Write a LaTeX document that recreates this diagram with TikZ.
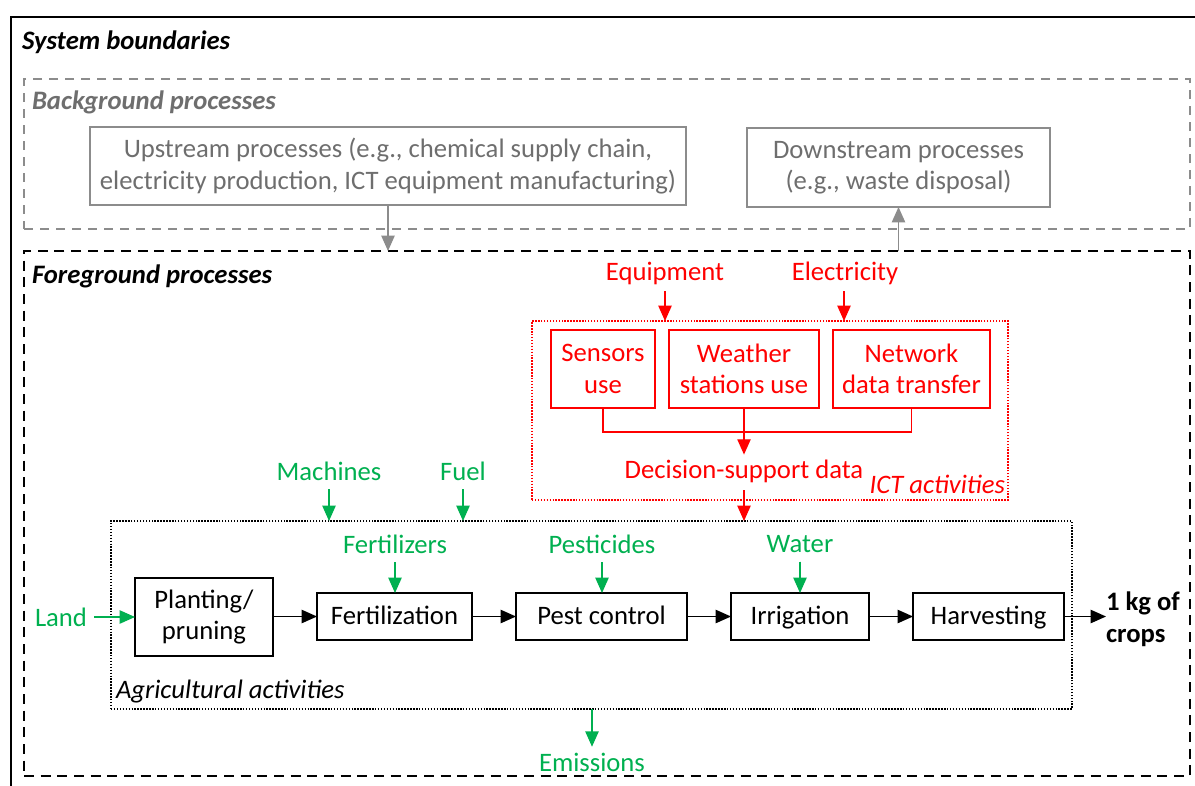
\documentclass[tikz,border=0pt]{standalone}
\usepackage{fontspec}
\setmainfont{Carlito}
\usetikzlibrary{arrows.meta,fit,calc}
\definecolor{agreen}{HTML}{00B050}
\definecolor{ared}{HTML}{FF0000}
\definecolor{bgline}{HTML}{8C8C8C}
\definecolor{bgtext}{HTML}{6E6E6E}
\begin{document}
\begin{tikzpicture}[x=0.75pt,y=-0.75pt,
  every node/.style={font=\fontsize{20}{23.6}\selectfont, inner sep=0pt, outer sep=0pt},
  region/.style={fit={#1}, inner sep=0pt, outer sep=0pt},
  sz/.style 2 args={minimum width=#1*0.75pt, minimum height=#2*0.75pt},
  oneline/.style={text height=14pt, text depth=2pt},
  procbox/.style={draw=black, line width=1.5pt, align=center},
  ictbox/.style={draw=ared, line width=1.5pt, align=center, text=ared},
  bgbox/.style={draw=bgline, line width=1.5pt, align=center, text=bgtext},
  title/.style={anchor=west, font=\fontsize{20}{23.6}\selectfont\bfseries\itshape},
  tip/.style={-{Triangle[length=11.5pt,width=10pt]}},
  flow/.style={tip, line width=1pt, draw=black},
  gflow/.style={tip, line width=1pt, draw=agreen, fill=agreen},
  rflow/.style={tip, line width=1pt, draw=ared, fill=ared},
  bflow/.style={tip, line width=1pt, draw=bgline, fill=bgline},
  glabel/.style={text=agreen},
  rlabel/.style={text=ared}
]
\useasboundingbox (0,0) rectangle (1195,785);
\clip (0,0) rectangle (1195,785);

% ---- nested system boundaries ----
\draw[line width=2.2pt] (11,17) rectangle (1215,805);
\node[title] (sysb) at (22,42) {System boundaries};

\node[region={(24,79) (1190,229)}, draw=bgline, line width=1.5pt,
      dash pattern=on 7pt off 5pt] (bg) {};
\node[title, text=bgtext] (bgt) at (32,102) {Background processes};

\node[region={(24,251) (1190,776)}, draw=black, line width=1.8pt,
      dash pattern=on 7.5pt off 5pt] (fg) {};
\node[title] (fgt) at (32,276) {Foreground processes};

% ---- background processes ----
\node[bgbox, sz={596}{78}] (up) at (388,166)
  {Upstream processes (e.g., chemical supply chain,\\electricity production, ICT equipment manufacturing)};
\node[bgbox, sz={303}{79}] (down) at (898.5,167.5)
  {Downstream processes\\(e.g., waste disposal)};
\draw[bflow] (up.south) -- (up.south |- fg.north);
\draw[bflow] (fg.north -| down.south) -- (down.south);

% ---- ICT activities ----
\node[region={(532,321) (1008,500)}, draw=ared, line width=1.1pt,
      dash pattern=on 1.1pt off 1.1pt] (ict) {};
\node[anchor=east, rlabel, font=\fontsize{20}{23.6}\selectfont\itshape] (ictt) at (1005,484) {ICT activities};

\node[rlabel] (equip) at (665,273) {Equipment};
\node[rlabel] (elec) at (845,273) {Electricity};
\draw[rflow] ($(equip.south)+(0,7)$) -- (equip.south |- ict.north);
\draw[rflow] ($(elec.south -| 844,0)+(0,7)$) -- (ict.north -| 844,0);

\node[ictbox, sz={104}{78}] (sens) at (603,369) {Sensors\\use};
\node[ictbox, sz={150}{78}] (wea) at (744,369) {Weather\\stations use};
\node[ictbox, sz={157}{78}] (net) at (911.5,369) {Network\\data transfer};

\node[rlabel] (dsd) at (744,471) {Decision-support data};
\draw[ared, line width=1pt] (sens.south) -- ++(0,24) -| (net.south);
\draw[rflow] (wea.south) -- ($(dsd.north)+(0,-5)$);

% ---- agricultural activities ----
\node[region={(111,521) (1072,709)}, draw=black, line width=1.1pt,
      dash pattern=on 1.1pt off 1.1pt] (agri) {};
\node[anchor=west, font=\fontsize{20}{23.6}\selectfont\itshape] (agrit) at (116,692) {Agricultural activities};
\draw[rflow] ($(dsd.south)+(0,8)$) -- (dsd.south |- agri.north);

\node[procbox, sz={138}{78}] (plant) at (204,617) {Planting/\\pruning};
\node[procbox, oneline, sz={155}{47}] (fert) at (394.5,616.5) {Fertilization};
\node[procbox, oneline, sz={171}{47}] (pest) at (601.5,616.5) {Pest control};
\node[procbox, oneline, sz={138}{47}] (irr) at (800,616.5) {Irrigation};
\node[procbox, oneline, sz={151}{47}] (harv) at (988.5,616.5) {Harvesting};

\draw[flow] (plant.east |- fert.west) -- (fert.west);
\draw[flow] (fert) -- (pest);
\draw[flow] (pest) -- (irr);
\draw[flow] (irr) -- (harv);

\node[anchor=west, align=left, font=\fontsize{20}{23.6}\selectfont\bfseries] (crops) at (1106,619) {1 kg of\\crops};
\draw[flow] (harv.east) -- (crops.west |- harv.east);

% ---- green inputs and outputs ----
\node[glabel] (mach) at (329,471) {Machines};
\node[glabel] (fuel) at (463,471) {Fuel};
\draw[gflow] ($(mach.south)+(0,9)$) -- (mach.south |- agri.north);
\draw[gflow] ($(fuel.south)+(0,9)$) -- (fuel.south |- agri.north);

\node[glabel] (ferti) at (395,544) {Fertilizers};
\node[glabel] (pesti) at (602,544) {Pesticides};
\node[glabel] (water) at (800,544) {Water};
\draw[gflow] ($(ferti.south)+(0,9)$) -- (ferti.south |- fert.north);
\draw[gflow] ($(pesti.south)+(0,9)$) -- (pesti.south |- pest.north);
\draw[gflow] ($(water.south)+(0,9)$) -- (water.south |- irr.north);

\node[glabel, anchor=west] (land) at (35,617) {Land};
\draw[gflow] ($(land.east)+(7,0)$) -- (plant.west);

\node[glabel] (emis) at (592,762) {Emissions};
\draw[gflow] (agri.south -| emis.north) -- ($(emis.north)+(0,-6)$);
\end{tikzpicture}
\end{document}
